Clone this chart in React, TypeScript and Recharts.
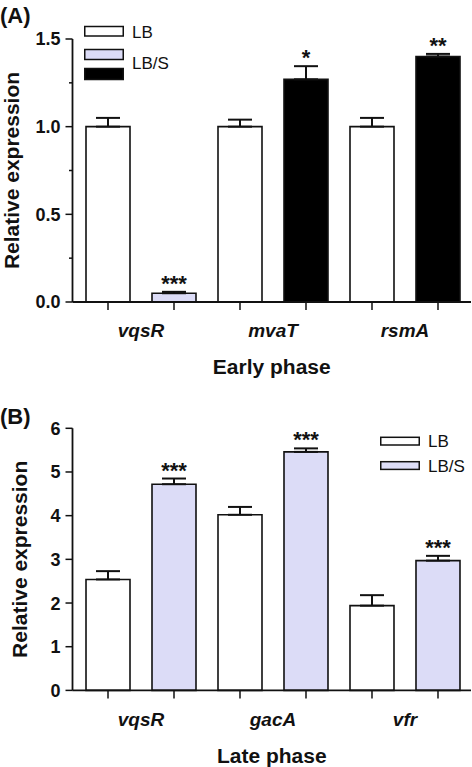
import React from "react";
import {
  BarChart,
  Bar,
  XAxis,
  YAxis,
  ErrorBar,
  Cell,
  ReferenceDot,
} from "recharts";

const FONT = '"Liberation Sans", Arial, Helvetica, sans-serif';
const INK = "#111";
const LILAC = "#dcdcf7";

const seriesNames = ["LB", "LB/S"];

// (A) early phase
const genesEarly = ["vqsR", "mvaT", "rsmA"];
const lbEarly = [1.0, 1.0, 1.0];
const lbErrEarly = [0.05, 0.04, 0.05];
const lbsEarly = [0.05, 1.27, 1.4];
const lbsErrEarly = [0.008, 0.075, 0.015];
const sigEarly = ["***", "*", "**"];
const yTicksEarly = [0, 0.25, 0.5, 0.75, 1, 1.25, 1.5];

// (B) late phase
const genesLate = ["vqsR", "gacA", "vfr"];
const lbLate = [2.54, 4.02, 1.94];
const lbErrLate = [0.19, 0.18, 0.24];
const lbsLate = [4.72, 5.46, 2.97];
const lbsErrLate = [0.13, 0.08, 0.11];
const sigLate = ["***", "***", "***"];
const yTicksLate = [0, 1, 2, 3, 4, 5, 6];

type Row = {
  slot: string;
  gene: string;
  series: string;
  value: number;
  err: [number, number];
  top: number;
  sig: string;
};

function buildRows(
  genes: string[],
  lb: number[],
  lbErr: number[],
  lbs: number[],
  lbsErr: number[],
  sig: string[]
): Row[] {
  return genes.flatMap((g, i) => [
    {
      slot: `${g} ${seriesNames[0]}`,
      gene: g,
      series: seriesNames[0],
      value: lb[i],
      err: [0, lbErr[i]] as [number, number],
      top: lb[i] + lbErr[i],
      sig: "",
    },
    {
      slot: `${g} ${seriesNames[1]}`,
      gene: g,
      series: seriesNames[1],
      value: lbs[i],
      err: [0, lbsErr[i]] as [number, number],
      top: lbs[i] + lbsErr[i],
      sig: sig[i],
    },
  ]);
}

const rowsEarly = buildRows(genesEarly, lbEarly, lbErrEarly, lbsEarly, lbsErrEarly, sigEarly);
const rowsLate = buildRows(genesLate, lbLate, lbErrLate, lbsLate, lbsErrLate, sigLate);

// early LB/S bars for mvaT and rsmA are drawn black in the figure
const fillsEarly = ["#fff", LILAC, "#fff", "#000", "#fff", "#000"];
const fillsLate = ["#fff", LILAC, "#fff", LILAC, "#fff", LILAC];

const TICK = 7;
const MARGIN = 5;

function YTick(props: any) {
  const { x, y, payload, index, minorEvery, fmt } = props;
  const axisX = x + TICK + MARGIN;
  const major = index % minorEvery === 0;
  return (
    <g>
      <line
        x1={axisX - (major ? TICK : 3.5)}
        x2={axisX}
        y1={y}
        y2={y}
        stroke={INK}
        strokeWidth={1.5}
      />
      {major && (
        <text
          x={x}
          y={y}
          dy="0.36em"
          textAnchor="end"
          fontSize={18}
          fontWeight="bold"
          fill={INK}
        >
          {fmt(payload.value)}
        </text>
      )}
    </g>
  );
}

// gene name centred between the two bars of each pair
function GeneTick(props: any) {
  const { x, y, payload, index, rows } = props;
  if (index % 2 !== 0) return <g />;
  const half = payload && typeof payload.offset === "number" ? payload.offset : 33;
  return (
    <text
      x={x + half}
      y={y}
      dy="0.71em"
      textAnchor="middle"
      fontSize={19}
      fontWeight="bold"
      fontStyle="italic"
      fill={INK}
    >
      {rows[index].gene}
    </text>
  );
}

function Swatches({ x, y, items, labels }: { x: number; y: number; items: any[]; labels: any[] }) {
  return (
    <g transform={`translate(${x},${y})`}>
      {items.map((s, i) => (
        <rect
          key={i}
          x={0.75}
          y={s.y}
          width={38.5}
          height={s.h}
          fill={s.fill}
          stroke={INK}
          strokeWidth={1.5}
        />
      ))}
      {labels.map((l, i) => (
        <text key={i} x={48} y={l.y} fontSize={17} fill={INK} fontFamily={FONT}>
          {l.text}
        </text>
      ))}
    </g>
  );
}

type PanelProps = {
  rows: Row[];
  fills: string[];
  yTicks: number[];
  minorEvery: number;
  fmt: (v: number) => string;
  title: string;
  height: number;
  marginTop: number;
  yLabelOffset: number;
};

function Panel(p: PanelProps) {
  const yMax = p.yTicks[p.yTicks.length - 1];
  return (
    <BarChart
      width={472}
      height={p.height}
      data={p.rows}
      margin={{ top: p.marginTop, right: 1, bottom: 0, left: 0 }}
      style={{ fontFamily: FONT }}
    >
      <XAxis
        dataKey="slot"
        type="category"
        interval={0}
        height={76.3}
        padding={{ left: 2.5, right: 0 }}
        tickSize={8}
        tickMargin={14}
        tick={(t: any) => <GeneTick {...t} rows={p.rows} />}
        tickLine={{ stroke: INK, strokeWidth: 1.5 }}
        axisLine={{ stroke: INK, strokeWidth: 1.8 }}
        label={{
          value: p.title,
          position: "insideBottom",
          offset: 4,
          fontSize: 21,
          fontWeight: "bold",
          fill: INK,
        }}
      />
      <YAxis
        type="number"
        domain={[0, yMax]}
        ticks={p.yTicks}
        interval={0}
        width={72.5}
        tickSize={TICK}
        tickMargin={MARGIN}
        tickLine={false}
        axisLine={{ stroke: INK, strokeWidth: 1.8 }}
        tick={(t: any) => <YTick {...t} minorEvery={p.minorEvery} fmt={p.fmt} />}
        label={{
          value: "Relative expression",
          angle: -90,
          position: "insideLeft",
          offset: p.yLabelOffset,
          fontSize: 21,
          fontWeight: "bold",
          fill: INK,
          style: { textAnchor: "middle" },
        }}
      />
      <Bar
        dataKey="value"
        barSize={44}
        stroke={INK}
        strokeWidth={1.6}
        isAnimationActive={false}
      >
        {p.rows.map((r, i) => (
          <Cell key={r.slot} fill={p.fills[i]} />
        ))}
        <ErrorBar
          dataKey="err"
          direction="y"
          width={12}
          stroke={INK}
          strokeWidth={2}
          isAnimationActive={false}
        />
      </Bar>
      {p.rows
        .filter((r) => r.sig)
        .map((r) => (
          <ReferenceDot
            key={r.slot}
            x={r.slot}
            y={r.top}
            r={0}
            stroke="none"
            label={{
              value: r.sig,
              position: "top",
              offset: 1,
              fontSize: 22,
              fontWeight: "bold",
              fill: INK,
            }}
          />
        ))}
    </BarChart>
  );
}

export default function App() {
  return (
    <div
      style={{
        position: "absolute",
        left: 0,
        top: 0,
        width: 472,
        height: 767,
        background: "#fff",
        fontFamily: FONT,
        overflow: "hidden",
      }}
    >
      <div style={{ position: "absolute", left: 0, top: 0 }}>
        <Panel
          rows={rowsEarly}
          fills={fillsEarly}
          yTicks={yTicksEarly}
          minorEvery={2}
          fmt={(v) => v.toFixed(1)}
          title="Early phase"
          height={378.3}
          marginTop={39}
          yLabelOffset={12}
        />
      </div>
      <div style={{ position: "absolute", left: 0, top: 380 }}>
        <Panel
          rows={rowsLate}
          fills={fillsLate}
          yTicks={yTicksLate}
          minorEvery={1}
          fmt={(v) => String(v)}
          title="Late phase"
          height={386.7}
          marginTop={48.3}
          yLabelOffset={20}
        />
      </div>
      <svg
        width={472}
        height={767}
        style={{ position: "absolute", left: 0, top: 0, pointerEvents: "none" }}
      >
        <text x={0} y={22.7} fontSize={22} fontWeight="bold" fill={INK} fontFamily={FONT}>
          (A)
        </text>
        <text x={0} y={424.3} fontSize={22} fontWeight="bold" fill={INK} fontFamily={FONT}>
          (B)
        </text>
        <Swatches
          x={84}
          y={24}
          items={[
            { y: 2.5, h: 9.5, fill: "#fff" },
            { y: 25.5, h: 10, fill: LILAC },
            { y: 44.5, h: 11, fill: "#000" },
          ]}
          labels={[
            { y: 14, text: seriesNames[0] },
            { y: 44.5, text: seriesNames[1] },
          ]}
        />
        <Swatches
          x={380}
          y={434}
          items={[
            { y: 3.3, h: 7.7, fill: "#fff" },
            { y: 27.7, h: 7.7, fill: LILAC },
          ]}
          labels={[
            { y: 12.8, text: seriesNames[0] },
            { y: 37.8, text: seriesNames[1] },
          ]}
        />
      </svg>
    </div>
  );
}
